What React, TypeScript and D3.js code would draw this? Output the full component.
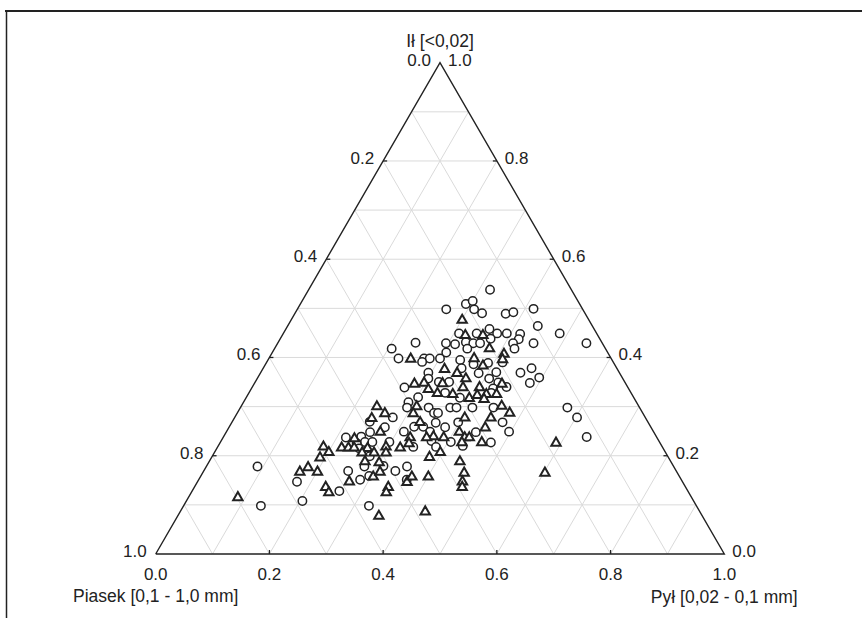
import * as d3 from "d3";

// [piasek, pył, ił] fractions
const circleSamples: number[][] = [
  [0.143, 0.319, 0.538], [0.2, 0.291, 0.509], [0.185, 0.3, 0.515], [0.191, 0.311, 0.498],
  [0.181, 0.329, 0.49], [0.241, 0.262, 0.498], [0.14, 0.371, 0.489], [0.126, 0.383, 0.492],
  [0.086, 0.415, 0.499], [0.096, 0.44, 0.464], [0.065, 0.486, 0.449], [0.184, 0.358, 0.458],
  [0.242, 0.309, 0.449], [0.211, 0.34, 0.449], [0.175, 0.376, 0.449], [0.158, 0.393, 0.449],
  [0.136, 0.417, 0.448], [0.193, 0.37, 0.438], [0.144, 0.42, 0.437], [0.157, 0.414, 0.429],
  [0.16, 0.422, 0.418], [0.121, 0.45, 0.429], [0.275, 0.296, 0.429], [0.26, 0.313, 0.427],
  [0.239, 0.33, 0.431], [0.227, 0.344, 0.429], [0.215, 0.356, 0.429], [0.243, 0.339, 0.418],
  [0.329, 0.242, 0.43], [0.376, 0.206, 0.418], [0.374, 0.228, 0.398], [0.329, 0.273, 0.398],
  [0.319, 0.283, 0.398], [0.285, 0.306, 0.41], [0.301, 0.301, 0.398], [0.336, 0.273, 0.391],
  [0.268, 0.338, 0.395], [0.249, 0.366, 0.386], [0.221, 0.39, 0.389], [0.195, 0.415, 0.39],
  [0.174, 0.457, 0.369], [0.15, 0.472, 0.378], [0.146, 0.495, 0.359], [0.167, 0.484, 0.348],
  [0.336, 0.295, 0.369], [0.342, 0.301, 0.357], [0.327, 0.323, 0.35], [0.309, 0.341, 0.35],
  [0.273, 0.349, 0.378], [0.248, 0.384, 0.368], [0.217, 0.414, 0.37], [0.235, 0.408, 0.357],
  [0.223, 0.428, 0.349], [0.393, 0.268, 0.339], [0.327, 0.345, 0.328], [0.306, 0.376, 0.318],
  [0.379, 0.302, 0.319], [0.238, 0.425, 0.337], [0.246, 0.426, 0.328], [0.401, 0.29, 0.309],
  [0.41, 0.293, 0.298], [0.372, 0.331, 0.298], [0.366, 0.346, 0.287], [0.359, 0.353, 0.287],
  [0.333, 0.369, 0.298], [0.322, 0.38, 0.298], [0.444, 0.278, 0.278], [0.489, 0.242, 0.269],
  [0.468, 0.274, 0.258], [0.499, 0.253, 0.248], [0.439, 0.312, 0.249], [0.416, 0.325, 0.259],
  [0.4, 0.341, 0.259], [0.393, 0.358, 0.249], [0.362, 0.38, 0.258], [0.374, 0.359, 0.267],
  [0.547, 0.216, 0.237], [0.52, 0.242, 0.239], [0.518, 0.254, 0.228], [0.534, 0.241, 0.225],
  [0.505, 0.267, 0.228], [0.475, 0.297, 0.228], [0.535, 0.25, 0.215], [0.523, 0.277, 0.199],
  [0.545, 0.278, 0.178], [0.51, 0.311, 0.179], [0.577, 0.254, 0.169], [0.493, 0.337, 0.169],
  [0.47, 0.353, 0.178], [0.545, 0.296, 0.159], [0.566, 0.284, 0.151], [0.483, 0.366, 0.151],
  [0.399, 0.37, 0.23], [0.398, 0.384, 0.218], [0.367, 0.405, 0.228], [0.438, 0.344, 0.218],
  [0.678, 0.175, 0.147], [0.613, 0.259, 0.128], [0.687, 0.204, 0.108], [0.767, 0.136, 0.098],
  [0.576, 0.326, 0.098], [0.732, 0.09, 0.178], [0.127, 0.575, 0.298], [0.12, 0.602, 0.278],
  [0.123, 0.639, 0.238], [0.257, 0.476, 0.268], [0.254, 0.497, 0.249], [0.313, 0.439, 0.248],
  [0.297, 0.476, 0.227], [0.334, 0.398, 0.268], [0.35, 0.43, 0.22], [0.257, 0.445, 0.298],
  [0.294, 0.408, 0.298], [0.213, 0.447, 0.34], [0.029, 0.543, 0.429],
];

const triangleSamples: number[][] = [
  [0.223, 0.301, 0.476], [0.233, 0.322, 0.445], [0.201, 0.353, 0.445], [0.204, 0.378, 0.418],
  [0.183, 0.409, 0.407], [0.192, 0.412, 0.396], [0.241, 0.361, 0.398], [0.233, 0.384, 0.383],
  [0.353, 0.25, 0.397], [0.305, 0.32, 0.376], [0.287, 0.346, 0.368], [0.276, 0.367, 0.357],
  [0.372, 0.282, 0.346], [0.353, 0.298, 0.348], [0.353, 0.312, 0.335], [0.322, 0.331, 0.347],
  [0.341, 0.332, 0.327], [0.315, 0.36, 0.325], [0.289, 0.371, 0.339], [0.261, 0.4, 0.339],
  [0.219, 0.436, 0.346], [0.291, 0.393, 0.317], [0.273, 0.404, 0.323], [0.255, 0.419, 0.325],
  [0.238, 0.437, 0.325], [0.461, 0.239, 0.3], [0.391, 0.309, 0.3], [0.241, 0.458, 0.301],
  [0.454, 0.26, 0.286], [0.482, 0.242, 0.276], [0.482, 0.271, 0.248], [0.596, 0.186, 0.218],
  [0.592, 0.201, 0.207], [0.613, 0.191, 0.196], [0.565, 0.219, 0.216], [0.553, 0.231, 0.216],
  [0.543, 0.241, 0.216], [0.533, 0.232, 0.235], [0.52, 0.265, 0.215], [0.534, 0.26, 0.206],
  [0.513, 0.281, 0.206], [0.486, 0.296, 0.218], [0.492, 0.302, 0.206], [0.462, 0.322, 0.216],
  [0.435, 0.329, 0.237], [0.442, 0.333, 0.225], [0.538, 0.274, 0.188], [0.515, 0.3, 0.186],
  [0.421, 0.383, 0.197], [0.397, 0.397, 0.207], [0.376, 0.388, 0.237], [0.393, 0.369, 0.239],
  [0.405, 0.358, 0.237], [0.663, 0.17, 0.167], [0.643, 0.18, 0.176], [0.632, 0.201, 0.167],
  [0.539, 0.304, 0.157], [0.522, 0.311, 0.167], [0.586, 0.267, 0.147], [0.633, 0.231, 0.136],
  [0.633, 0.242, 0.125], [0.523, 0.341, 0.136], [0.533, 0.343, 0.125], [0.486, 0.369, 0.146],
  [0.471, 0.372, 0.157], [0.442, 0.401, 0.157], [0.483, 0.431, 0.086], [0.569, 0.354, 0.077],
  [0.404, 0.31, 0.286], [0.401, 0.331, 0.268], [0.184, 0.591, 0.226], [0.233, 0.602, 0.165],
  [0.371, 0.441, 0.188], [0.375, 0.46, 0.165], [0.387, 0.466, 0.147], [0.393, 0.471, 0.136],
  [0.272, 0.451, 0.277], [0.233, 0.479, 0.287], [0.292, 0.451, 0.257], [0.313, 0.46, 0.227],
  [0.317, 0.405, 0.277], [0.343, 0.41, 0.248], [0.337, 0.425, 0.237], [0.33, 0.433, 0.237],
  [0.348, 0.425, 0.227], [0.265, 0.42, 0.315], [0.798, 0.087, 0.115],
];

const gridSteps = [0.1, 0.2, 0.3, 0.4, 0.5, 0.6, 0.7, 0.8, 0.9];
const tickSteps = [0.2, 0.4, 0.6, 0.8];
const labelSteps = [0, 0.2, 0.4, 0.6, 0.8, 1];

const titleClay = "Ił [<0,02]";
const titleSand = "Piasek [0,1 - 1,0 mm]";
const titleSilt = "Pył [0,02 - 0,1 mm]";

const W = 862;
const H = 618;
const ink = "#222";
const font = "'Liberation Sans', Arial, sans-serif";

export default function App() {
  // x along the base, y up to the clay apex
  const x = d3.scaleLinear().domain([0, 1]).range([155.7, 724.3]);
  const y = d3.scaleLinear().domain([0, 1]).range([554, 62.7]);
  const fmt = d3.format(".1f");

  // silt, clay -> screen
  const pt = (silt: number, clay: number): [number, number] => [x(silt + clay / 2), y(clay)];

  const tri = d3.symbol().type(d3.symbolTriangle).size(38)();

  const gridLines: [number, number][][] = [];
  gridSteps.forEach((t) => {
    gridLines.push([pt(0, t), pt(1 - t, t)]); // constant clay
    gridLines.push([pt(t, 0), pt(t, 1 - t)]); // constant silt
    gridLines.push([pt(1 - t, 0), pt(0, 1 - t)]); // constant sand
  });

  const outline = d3.line()([pt(0, 0), pt(1, 0), pt(0, 1), pt(0, 0)]);

  return (
    <svg width={W} height={H} style={{ position: "absolute", left: 0, top: 0, background: "#fff" }}>
      <line x1={5} x2={W} y1={11} y2={11} stroke={ink} strokeWidth={2.2} />
      <line x1={6.5} x2={6.5} y1={11} y2={H} stroke={ink} strokeWidth={1.5} />

      <g>
        {gridLines.map((l, i) => (
          <line key={i} x1={l[0][0]} y1={l[0][1]} x2={l[1][0]} y2={l[1][1]} stroke="#dadada" strokeWidth={1} />
        ))}
      </g>

      <path d={outline ?? ""} fill="none" stroke={ink} strokeWidth={1.4} strokeLinejoin="miter" />

      <g stroke={ink} strokeWidth={1.3}>
        {tickSteps.map((t) => {
          const b = pt(t, 0);
          const l = pt(0, t);
          const r = pt(1 - t, t);
          return (
            <g key={t}>
              <line x1={b[0]} x2={b[0]} y1={b[1]} y2={b[1] - 4} />
              <line x1={l[0]} x2={l[0] + 4} y1={l[1]} y2={l[1]} />
              <line x1={r[0]} x2={r[0] - 4} y1={r[1]} y2={r[1]} />
            </g>
          );
        })}
      </g>

      <g fontFamily={font} fontSize={17} fill={ink}>
        {labelSteps.map((t) => {
          const b = pt(t, 0);
          const l = pt(0, 1 - t);
          const r = pt(t, 1 - t);
          return (
            <g key={t}>
              <text x={b[0]} y={580} textAnchor="middle">{fmt(t)}</text>
              <text x={l[0] - 9} y={l[1] + 3} textAnchor="end">{fmt(t)}</text>
              <text x={r[0] + 8} y={r[1] + 3} textAnchor="start">{fmt(1 - t)}</text>
            </g>
          );
        })}
        <text x={x(0.5)} y={47} textAnchor="middle" fontSize={17.5}>{titleClay}</text>
        <text x={x(0)} y={602} textAnchor="middle" fontSize={17.5}>{titleSand}</text>
        <text x={x(1)} y={603} textAnchor="middle" fontSize={17.5}>{titleSilt}</text>
      </g>

      <g fill="#fff" stroke={ink}>
        {circleSamples.map((d, i) => {
          const [cx, cy] = pt(d[1], d[2]);
          return <circle key={i} cx={cx} cy={cy} r={4.2} strokeWidth={1.5} />;
        })}
        {triangleSamples.map((d, i) => {
          const [tx, ty] = pt(d[1], d[2]);
          return <path key={i} d={tri ?? ""} transform={`translate(${tx},${ty})`} strokeWidth={2} />;
        })}
      </g>
    </svg>
  );
}
